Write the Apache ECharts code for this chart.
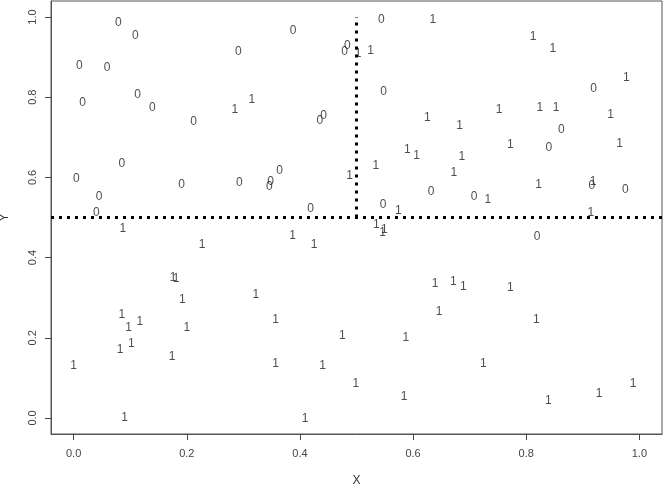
<!DOCTYPE html>
<html>
<head>
<meta charset="utf-8">
<script src="https://cdn.jsdelivr.net/npm/echarts@6/dist/echarts.min.js"></script>
<style>
  html, body { margin: 0; padding: 0; background: #fff; }
  #chart { width: 663px; height: 486px; }
</style>
</head>
<body>
<div id="chart"></div>
<script>
  // points labelled "0"
  const zeroX = [0.079, 0.109, 0.388, 0.010, 0.059, 0.291, 0.016, 0.113, 0.139, 0.212, 0.435, 0.442,
    0.005, 0.085, 0.191, 0.293, 0.346, 0.348, 0.364, 0.045, 0.040, 0.419,
    0.544, 0.484, 0.479, 0.919, 0.548, 0.862, 0.840, 0.916, 0.975, 0.632, 0.708, 0.547, 0.819];
  const zeroY = [0.987, 0.954, 0.967, 0.879, 0.873, 0.914, 0.786, 0.806, 0.775, 0.740, 0.742, 0.754,
    0.598, 0.634, 0.582, 0.588, 0.578, 0.590, 0.616, 0.551, 0.512, 0.522,
    0.994, 0.929, 0.913, 0.821, 0.813, 0.719, 0.673, 0.580, 0.569, 0.565, 0.552, 0.532, 0.451];

  // points labelled "1"
  const oneX = [0.285, 0.315, 0.087,
    0.635, 0.503, 0.525, 0.812, 0.847, 0.977, 0.752, 0.824, 0.853, 0.949, 0.625, 0.682, 0.772,
    0.965, 0.590, 0.606, 0.686, 0.672, 0.534, 0.488, 0.822, 0.918, 0.732, 0.574, 0.914, 0.535,
    0.549, 0.546,
    0.227, 0.387, 0.425, 0.176, 0.181, 0.192, 0.322, 0.085, 0.117, 0.097, 0.200, 0.357, 0.102,
    0.082, 0.174, 0.000, 0.357, 0.440, 0.090, 0.409,
    0.639, 0.671, 0.689, 0.772, 0.646, 0.818, 0.475, 0.587, 0.724, 0.499, 0.584, 0.839, 0.929, 0.989];
  const oneY = [0.770, 0.794, 0.473,
    0.994, 0.909, 0.917, 0.950, 0.921, 0.848, 0.769, 0.775, 0.775, 0.757, 0.749, 0.730, 0.682,
    0.684, 0.670, 0.653, 0.651, 0.611, 0.628, 0.605, 0.582, 0.590, 0.545, 0.516, 0.513, 0.482,
    0.470, 0.461,
    0.432, 0.455, 0.432, 0.349, 0.348, 0.295, 0.308, 0.258, 0.241, 0.224, 0.224, 0.245, 0.185,
    0.170, 0.154, 0.131, 0.136, 0.131, 0.000, -0.002,
    0.334, 0.340, 0.328, 0.324, 0.265, 0.245, 0.205, 0.201, 0.135, 0.085, 0.054, 0.043, 0.061, 0.085];

  const tickValues = [0, 0.2, 0.4, 0.6, 0.8, 1.0];
  const splitX = 0.5;
  const splitY = 0.5;

  const font = 'Liberation Sans, Arial, sans-serif';

  function pairs(xs, ys) {
    return xs.map((x, i) => [x, ys[i]]);
  }

  function textSeries(name, xs, ys) {
    return {
      name: name,
      type: 'scatter',
      data: pairs(xs, ys),
      symbol: 'circle',
      symbolSize: 1,
      itemStyle: {color: 'rgba(0,0,0,0)'},
      silent: true,
      label: {
        show: true,
        position: 'inside',
        formatter: name,
        fontSize: 12,
        fontFamily: font,
        color: '#222'
      },
      labelLayout: {hideOverlap: false}
    };
  }

  function axisCommon(name) {
    return {
      type: 'value',
      min: -0.04,
      max: 1.04,
      name: name,
      nameLocation: 'middle',
      nameTextStyle: {fontSize: 12, fontFamily: font, color: '#333'},
      splitLine: {show: false},
      axisLine: {show: true, onZero: false, lineStyle: {color: '#555', width: 1}},
      axisTick: {
        show: true,
        inside: false,
        length: 6,
        customValues: tickValues,
        lineStyle: {color: '#444', width: 1}
      },
      axisLabel: {
        fontSize: 11,
        fontFamily: font,
        color: '#444',
        customValues: tickValues,
        formatter: v => v.toFixed(1)
      }
    };
  }

  const xAxis = axisCommon('X');
  xAxis.position = 'bottom';
  xAxis.nameGap = 41;
  xAxis.axisLabel.margin = 14;

  const yAxis = axisCommon('Y');
  yAxis.position = 'left';
  yAxis.nameGap = 40;
  yAxis.axisLabel.margin = 13;
  yAxis.axisLabel.rotate = 90;

  const series0 = textSeries('0', zeroX, zeroY);
  series0.markLine = {
    silent: true,
    symbol: 'none',
    animation: false,
    label: {show: false},
    lineStyle: {color: '#000', width: 3, type: [3, 5]},
    data: [
      {yAxis: splitY},
      [{coord: [splitX, splitY]}, {coord: [splitX, 1.0]}]
    ]
  };

  const option = {
    animation: false,
    backgroundColor: '#fff',
    grid: {
      left: 51,
      right: 1,
      top: 1,
      bottom: 52,
      outerBoundsMode: 'none',
      containLabel: false,
      show: true,
      borderColor: '#555',
      borderWidth: 1,
      backgroundColor: 'transparent'
    },
    xAxis: xAxis,
    yAxis: yAxis,
    series: [series0, textSeries('1', oneX, oneY)]
  };

  const chart = echarts.init(document.getElementById('chart'));
  chart.setOption(option);
</script>
</body>
</html>
